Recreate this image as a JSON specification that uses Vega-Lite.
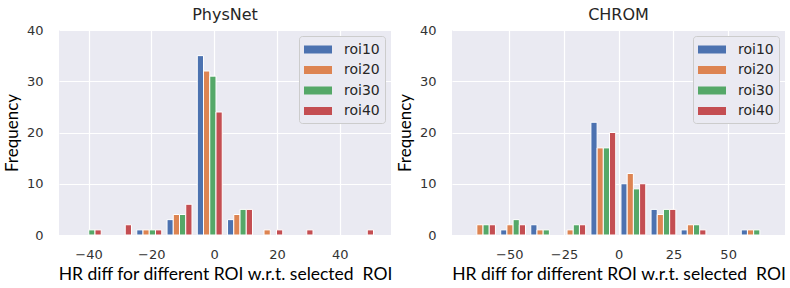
{
  "$schema": "https://vega.github.io/schema/vega-lite/v6.json",
  "padding": {"left": 3, "top": 7, "right": 0, "bottom": 0},
  "background": "white",
  "bounds": "flush",
  "spacing": 61,
  "datasets": {
    "hist": [
      {"method": "PhysNet", "roi": "roi30", "bin": -39.92, "count": 1},
      {"method": "PhysNet", "roi": "roi40", "bin": -39.92, "count": 1},
      {"method": "PhysNet", "roi": "roi40", "bin": -30.29, "count": 2},
      {"method": "PhysNet", "roi": "roi10", "bin": -20.66, "count": 1},
      {"method": "PhysNet", "roi": "roi20", "bin": -20.66, "count": 1},
      {"method": "PhysNet", "roi": "roi30", "bin": -20.66, "count": 1},
      {"method": "PhysNet", "roi": "roi40", "bin": -20.66, "count": 1},
      {"method": "PhysNet", "roi": "roi10", "bin": -11.03, "count": 3},
      {"method": "PhysNet", "roi": "roi20", "bin": -11.03, "count": 4},
      {"method": "PhysNet", "roi": "roi30", "bin": -11.03, "count": 4},
      {"method": "PhysNet", "roi": "roi40", "bin": -11.03, "count": 6},
      {"method": "PhysNet", "roi": "roi10", "bin": -1.4, "count": 35},
      {"method": "PhysNet", "roi": "roi20", "bin": -1.4, "count": 32},
      {"method": "PhysNet", "roi": "roi30", "bin": -1.4, "count": 31},
      {"method": "PhysNet", "roi": "roi40", "bin": -1.4, "count": 24},
      {"method": "PhysNet", "roi": "roi10", "bin": 8.23, "count": 3},
      {"method": "PhysNet", "roi": "roi20", "bin": 8.23, "count": 4},
      {"method": "PhysNet", "roi": "roi30", "bin": 8.23, "count": 5},
      {"method": "PhysNet", "roi": "roi40", "bin": 8.23, "count": 5},
      {"method": "PhysNet", "roi": "roi20", "bin": 17.86, "count": 1},
      {"method": "PhysNet", "roi": "roi40", "bin": 17.86, "count": 1},
      {"method": "PhysNet", "roi": "roi40", "bin": 27.49, "count": 1},
      {"method": "PhysNet", "roi": "roi40", "bin": 46.75, "count": 1},
      {"method": "CHROM", "roi": "roi20", "bin": -62.0, "count": 2},
      {"method": "CHROM", "roi": "roi30", "bin": -62.0, "count": 2},
      {"method": "CHROM", "roi": "roi40", "bin": -62.0, "count": 2},
      {"method": "CHROM", "roi": "roi10", "bin": -48.26, "count": 1},
      {"method": "CHROM", "roi": "roi20", "bin": -48.26, "count": 2},
      {"method": "CHROM", "roi": "roi30", "bin": -48.26, "count": 3},
      {"method": "CHROM", "roi": "roi40", "bin": -48.26, "count": 2},
      {"method": "CHROM", "roi": "roi10", "bin": -34.52, "count": 2},
      {"method": "CHROM", "roi": "roi20", "bin": -34.52, "count": 1},
      {"method": "CHROM", "roi": "roi30", "bin": -34.52, "count": 1},
      {"method": "CHROM", "roi": "roi20", "bin": -20.78, "count": 1},
      {"method": "CHROM", "roi": "roi30", "bin": -20.78, "count": 2},
      {"method": "CHROM", "roi": "roi40", "bin": -20.78, "count": 2},
      {"method": "CHROM", "roi": "roi10", "bin": -7.04, "count": 22},
      {"method": "CHROM", "roi": "roi20", "bin": -7.04, "count": 17},
      {"method": "CHROM", "roi": "roi30", "bin": -7.04, "count": 17},
      {"method": "CHROM", "roi": "roi40", "bin": -7.04, "count": 20},
      {"method": "CHROM", "roi": "roi10", "bin": 6.7, "count": 10},
      {"method": "CHROM", "roi": "roi20", "bin": 6.7, "count": 12},
      {"method": "CHROM", "roi": "roi30", "bin": 6.7, "count": 9},
      {"method": "CHROM", "roi": "roi40", "bin": 6.7, "count": 10},
      {"method": "CHROM", "roi": "roi10", "bin": 20.44, "count": 5},
      {"method": "CHROM", "roi": "roi20", "bin": 20.44, "count": 4},
      {"method": "CHROM", "roi": "roi30", "bin": 20.44, "count": 5},
      {"method": "CHROM", "roi": "roi40", "bin": 20.44, "count": 5},
      {"method": "CHROM", "roi": "roi10", "bin": 34.18, "count": 1},
      {"method": "CHROM", "roi": "roi20", "bin": 34.18, "count": 2},
      {"method": "CHROM", "roi": "roi30", "bin": 34.18, "count": 2},
      {"method": "CHROM", "roi": "roi40", "bin": 34.18, "count": 1},
      {"method": "CHROM", "roi": "roi10", "bin": 61.66, "count": 1},
      {"method": "CHROM", "roi": "roi20", "bin": 61.66, "count": 1},
      {"method": "CHROM", "roi": "roi30", "bin": 61.66, "count": 1}
    ]
  },
  "data": {"name": "hist"},
  "hconcat": [
    {
      "title": {"text": "PhysNet", "font": "DejaVu Sans", "fontSize": 16, "fontWeight": "normal", "color": "#262626", "offset": 1},
      "width": 332,
      "height": 205,
      "transform": [{"filter": "datum.method === 'PhysNet'"}],
      "encoding": {
        "x": {"field": "bin", "type": "quantitative", "scale": {"domain": [-47.8, 54.7], "nice": false, "zero": false}, "axis": {"values": [-40, -20, 0, 20, 40], "title": "HR diff for different ROI w.r.t. selected\u00a0 ROI"}},
        "y": {"field": "count", "type": "quantitative", "scale": {"domain": [0, 40], "nice": false}, "axis": {"values": [0, 10, 20, 30, 40], "title": "Frequency"}},
        "color": {"field": "roi", "type": "nominal", "scale": {"domain": ["roi10", "roi20", "roi30", "roi40"], "range": ["#4C72B0", "#DD8452", "#55A868", "#C44E52"]}, "legend": {"title": null}}
      },
      "layer": [
        {"transform": [{"filter": "datum.roi === 'roi10'"}], "mark": {"type": "bar", "width": 6.24, "xOffset": -9.36, "stroke": "white", "strokeWidth": 1}},
        {"transform": [{"filter": "datum.roi === 'roi20'"}], "mark": {"type": "bar", "width": 6.24, "xOffset": -3.12, "stroke": "white", "strokeWidth": 1}},
        {"transform": [{"filter": "datum.roi === 'roi30'"}], "mark": {"type": "bar", "width": 6.24, "xOffset": 3.12, "stroke": "white", "strokeWidth": 1}},
        {"transform": [{"filter": "datum.roi === 'roi40'"}], "mark": {"type": "bar", "width": 6.24, "xOffset": 9.36, "stroke": "white", "strokeWidth": 1}}
      ]
    },
    {
      "title": {"text": "CHROM", "font": "DejaVu Sans", "fontSize": 16, "fontWeight": "normal", "color": "#262626", "offset": 1},
      "width": 333,
      "height": 205,
      "transform": [{"filter": "datum.method === 'CHROM'"}],
      "encoding": {
        "x": {"field": "bin", "type": "quantitative", "scale": {"domain": [-73.9, 73.7], "nice": false, "zero": false}, "axis": {"values": [-50, -25, 0, 25, 50], "title": "HR diff for different ROI w.r.t. selected\u00a0 ROI"}},
        "y": {"field": "count", "type": "quantitative", "scale": {"domain": [0, 40], "nice": false}, "axis": {"values": [0, 10, 20, 30, 40], "title": "Frequency"}},
        "color": {"field": "roi", "type": "nominal", "scale": {"domain": ["roi10", "roi20", "roi30", "roi40"], "range": ["#4C72B0", "#DD8452", "#55A868", "#C44E52"]}, "legend": {"title": null}}
      },
      "layer": [
        {"transform": [{"filter": "datum.roi === 'roi10'"}], "mark": {"type": "bar", "width": 6.2, "xOffset": -9.3, "stroke": "white", "strokeWidth": 1}},
        {"transform": [{"filter": "datum.roi === 'roi20'"}], "mark": {"type": "bar", "width": 6.2, "xOffset": -3.1, "stroke": "white", "strokeWidth": 1}},
        {"transform": [{"filter": "datum.roi === 'roi30'"}], "mark": {"type": "bar", "width": 6.2, "xOffset": 3.1, "stroke": "white", "strokeWidth": 1}},
        {"transform": [{"filter": "datum.roi === 'roi40'"}], "mark": {"type": "bar", "width": 6.2, "xOffset": 9.3, "stroke": "white", "strokeWidth": 1}}
      ]
    }
  ],
  "resolve": {"legend": {"color": "independent"}, "scale": {"x": "independent"}},
  "config": {
    "view": {"fill": "#EAEAF2", "stroke": null},
    "axis": {
      "domain": false, "ticks": false, "tickSize": 0,
      "gridColor": "white", "gridWidth": 1.2,
      "labelFont": "DejaVu Sans", "labelFontSize": 13, "labelColor": "#333333",
      "titleFont": "Lato", "titleFontSize": 17.5, "titleColor": "black", "titleFontWeight": "normal"
    },
    "axisX": {"labelPadding": 13, "titlePadding": 4},
    "axisY": {"labelPadding": 16, "titlePadding": 5, "titleFontSize": 17},
    "legend": {
      "orient": "top-right", "offset": 6,
      "fillColor": "#EAEAF2", "strokeColor": "#CCCCCC", "cornerRadius": 3, "padding": 5,
      "labelFont": "DejaVu Sans", "labelFontSize": 14, "labelColor": "#262626",
      "symbolType": "M-1,-0.47H2.294V0.47H-1Z", "symbolSize": 289, "symbolStrokeWidth": 0, "symbolOpacity": 1,
      "labelOffset": 23, "rowPadding": 4.5
    }
  }
}
